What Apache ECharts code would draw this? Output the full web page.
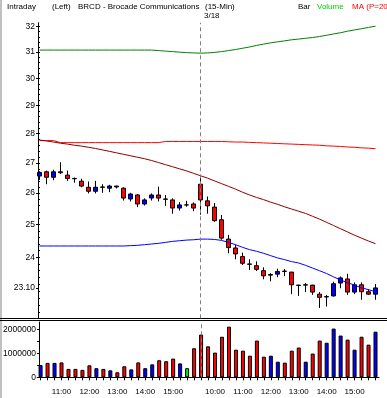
<!DOCTYPE html>
<html><head><meta charset="utf-8">
<script src="https://cdn.jsdelivr.net/npm/echarts@6/dist/echarts.min.js"></script>
<style>html,body{margin:0;padding:0;background:#fff;overflow:hidden}#c{width:387px;height:398px}</style>
</head><body><div id="c"></div>
<script>
// ---- data ----
const day1Times = ['10:15','10:30','10:45','11:00','11:15','11:30','11:45','12:00','12:15','12:30','12:45','13:00','13:15','13:30','13:45','14:00','14:15','14:30','14:45','15:00','15:15','15:30','15:45'];
const day2Times = ['9:30','9:45','10:00','10:15','10:30','10:45','11:00','11:15','11:30','11:45','12:00','12:15','12:30','12:45','13:00','13:15','13:30','13:45','14:00','14:15','14:30','14:45','15:00','15:15','15:30','15:45'];
const opens  = [26.56,26.70,26.52,26.70,26.59,26.48,26.39,26.19,26.06,26.20,26.16,26.23,26.16,25.81,25.94,25.65,25.84,25.94,25.81,25.78,25.52,25.62,25.65,
                26.29,25.75,25.55,25.15,24.55,24.28,24.02,23.80,23.75,23.60,23.47,23.50,23.59,23.56,23.18,23.18,23.18,22.92,22.84,22.87,23.24,23.36,22.98,23.19,22.99,22.92];
const closes = [26.68,26.52,26.70,26.67,26.48,26.47,26.23,26.06,26.19,26.19,26.23,26.20,25.84,25.97,25.65,25.78,25.94,25.84,25.80,25.52,25.62,25.62,25.52,
                25.78,25.59,25.12,24.58,24.29,24.10,23.82,23.79,23.64,23.45,23.49,23.58,23.58,23.19,23.17,23.19,22.98,22.83,22.85,23.22,23.39,22.98,23.19,22.99,22.92,23.10];
const lows   = [26.43,26.29,26.42,26.63,26.40,26.34,26.19,25.99,25.99,26.01,26.03,26.15,25.76,25.73,25.55,25.60,25.76,25.73,25.59,25.34,25.44,25.56,25.42,
                25.31,25.34,25.09,24.53,24.12,23.94,23.77,23.62,23.59,23.35,23.29,23.41,23.44,22.92,22.87,22.98,22.90,22.53,22.57,22.85,23.09,22.90,22.92,22.76,22.90,22.76];
const highs  = [26.72,26.74,26.77,27.02,26.74,26.51,26.47,26.38,26.40,26.29,26.27,26.24,26.19,26.01,25.97,25.83,25.99,26.21,25.94,25.83,25.71,25.75,25.70,
                26.49,25.89,25.68,25.30,24.68,24.38,24.14,23.94,23.88,23.70,23.53,23.66,23.65,23.56,23.19,23.24,23.19,22.98,22.90,23.28,23.43,23.51,23.26,23.26,23.06,23.21];
const volumes = [510000,600000,600000,620000,350000,350000,310000,500000,380000,350000,290000,210000,460000,330000,620000,380000,540000,710000,670000,780000,580000,380000,1210000,
                 1780000,1290000,1030000,1690000,2110000,1150000,1110000,900000,1530000,860000,900000,650000,610000,1110000,1240000,650000,990000,1530000,1440000,2030000,1740000,1570000,1150000,1690000,1360000,1900000];
const lineGreen  = [31.08,31.08,31.08,31.08,31.08,31.08,31.08,31.08,31.08,31.08,31.08,31.08,31.08,31.08,31.08,31.08,31.08,31.06,31.04,31.02,31.00,30.98,30.97,
                    30.96,30.97,30.99,31.02,31.06,31.10,31.15,31.20,31.26,31.31,31.36,31.40,31.44,31.48,31.51,31.54,31.57,31.61,31.66,31.71,31.76,31.82,31.87,31.92,31.97,32.02];
const lineRed    = [27.76,27.76,27.76,27.69,27.69,27.69,27.69,27.69,27.69,27.69,27.69,27.69,27.69,27.69,27.69,27.69,27.69,27.69,27.73,27.73,27.73,27.73,27.73,
                    27.73,27.73,27.73,27.73,27.72,27.71,27.71,27.70,27.69,27.68,27.67,27.66,27.65,27.64,27.63,27.62,27.61,27.60,27.58,27.57,27.56,27.54,27.53,27.51,27.50,27.48];
const lineMaroon = [27.78,27.75,27.71,27.67,27.64,27.60,27.57,27.53,27.49,27.44,27.39,27.34,27.29,27.24,27.19,27.14,27.08,27.01,26.94,26.87,26.80,26.73,26.65,
                    26.57,26.49,26.40,26.31,26.22,26.13,26.03,25.94,25.86,25.79,25.71,25.64,25.56,25.49,25.42,25.35,25.26,25.17,25.07,24.97,24.87,24.77,24.67,24.58,24.49,24.41];
const lineBlue   = [24.34,24.34,24.34,24.34,24.34,24.34,24.34,24.34,24.34,24.34,24.34,24.34,24.34,24.35,24.36,24.38,24.40,24.42,24.45,24.48,24.50,24.52,24.53,
                    24.55,24.55,24.54,24.51,24.45,24.38,24.30,24.23,24.18,24.12,24.05,23.98,23.93,23.87,23.83,23.76,23.68,23.60,23.52,23.42,23.33,23.25,23.18,23.10,23.05,22.99];
const priceTickLabels = [23.1,24,25,26,27,28,29,30,31,32];
const volumeTickLabels = [0,1000000,2000000];
const volumeMinorTicks = [0,500000,1000000,1500000,2000000];
const dayBreakLabel = '3/18';

// ---- build ----
const categories = day1Times.map(t => '3/17 ' + t).concat(day2Times.map(t => '3/18 ' + t));
const candleData = opens.map((o, i) => [o, closes[i], lows[i], highs[i]]);
const volData = volumes.map((v, i) => ({
  value: v,
  itemStyle: { color: closes[i] > opens[i] ? '#0000ff' : (closes[i] < opens[i] ? '#ff0000' : '#00ee00') }
}));
const priceMinorTicks = [];
for (let k = 112; k <= 160; k++) priceMinorTicks.push(Math.round(k * 2) / 10);

const FONT = '"Liberation Sans", Arial, sans-serif';
const PMIN = 22.24, PMAX = 32.16;

const chart = echarts.init(document.getElementById('c'), null, { renderer: 'canvas' });
const dashed = () => ({
  silent: true, symbol: ['none', 'none'],
  lineStyle: { color: '#808080', type: [4, 3], width: 1 },
  label: { show: false },
  data: [{ xAxis: categories[23] }]
});

chart.setOption({
  animation: false,
  backgroundColor: '#ffffff',
  grid: [
    { left: 36, right: 8, top: 22.7, bottom: 79.7 },
    { left: 36, right: 8, top: 322, bottom: 20.7 }
  ],
  xAxis: [
    { type: 'category', gridIndex: 0, data: categories, boundaryGap: true,
      axisLine: { show: false }, axisTick: { show: false }, axisLabel: { show: false }, splitLine: { show: false } },
    { type: 'category', gridIndex: 1, data: categories, boundaryGap: true,
      axisLine: { show: true, lineStyle: { color: '#000', width: 1 } },
      axisTick: { show: true, alignWithLabel: true, interval: 0, length: 3, lineStyle: { color: '#000' } },
      axisLabel: { interval: (i, v) => v.endsWith(':00'), formatter: v => v.split(' ')[1],
        color: '#000', fontFamily: FONT, fontSize: 8, margin: 10 },
      splitLine: { show: false } }
  ],
  yAxis: [
    { type: 'log', gridIndex: 0, position: 'left', min: PMIN, max: PMAX, offset: -2,
      axisLine: { show: true, lineStyle: { color: '#000', width: 1 } },
      axisTick: { show: true, length: 2, customValues: priceTickLabels, lineStyle: { color: '#000' } },
      axisLabel: { customValues: priceTickLabels, color: '#000', fontFamily: FONT, fontSize: 8.5, margin: 3,
        formatter: v => Math.abs(v - 23.1) < 0.01 ? '23.10' : String(Math.round(v)) },
      splitLine: { show: false } },
    { type: 'log', gridIndex: 0, position: 'left', min: PMIN, max: PMAX, offset: -2,
      axisLine: { show: false },
      axisTick: { show: true, inside: true, length: 2, customValues: priceMinorTicks, lineStyle: { color: '#000' } },
      axisLabel: { show: false }, splitLine: { show: false } },
    { type: 'value', gridIndex: 1, position: 'left', min: 0, max: 2304000, offset: -2,
      axisLine: { show: true, lineStyle: { color: '#000', width: 1 } },
      axisTick: { show: true, length: 2, customValues: volumeMinorTicks, lineStyle: { color: '#000' } },
      axisLabel: { customValues: volumeTickLabels, color: '#000', fontFamily: FONT, fontSize: 8.5, margin: 3,
        formatter: v => String(Math.round(v)) },
      splitLine: { show: false } }
  ],
  series: [
    { type: 'candlestick', xAxisIndex: 0, yAxisIndex: 0, data: candleData, barWidth: 4, z: 2,
      itemStyle: { color: '#0000ff', color0: '#ff0000', borderColor: '#000', borderColor0: '#000',
        borderColorDoji: '#000', borderWidth: 1 },
      markLine: dashed() },
    { type: 'line', xAxisIndex: 0, yAxisIndex: 0, data: lineGreen, showSymbol: false, z: 3,
      lineStyle: { color: '#008000', width: 1 } },
    { type: 'line', xAxisIndex: 0, yAxisIndex: 0, data: lineRed, showSymbol: false, z: 3,
      lineStyle: { color: '#ff0000', width: 1 } },
    { type: 'line', xAxisIndex: 0, yAxisIndex: 0, data: lineMaroon, showSymbol: false, z: 3,
      lineStyle: { color: '#8b0000', width: 1 } },
    { type: 'line', xAxisIndex: 0, yAxisIndex: 0, data: lineBlue, showSymbol: false, z: 3,
      lineStyle: { color: '#0000ff', width: 1 } },
    { type: 'bar', xAxisIndex: 1, yAxisIndex: 2, data: volData, barWidth: 4, z: 2,
      itemStyle: { borderColor: '#000', borderWidth: 1 },
      markLine: dashed() }
  ],
  graphic: [
    { type: 'rect', shape: { x: 0, y: 0, width: 2, height: 398 }, style: { fill: '#c0c0c0' }, silent: true },
    { type: 'line', shape: { x1: 0, y1: 318.5, x2: 387, y2: 318.5 }, style: { stroke: '#000', lineWidth: 1 }, silent: true },
    { type: 'line', shape: { x1: 0, y1: 320.5, x2: 387, y2: 320.5 }, style: { stroke: '#000', lineWidth: 1 }, silent: true },
    { type: 'text', x: 7, y: 7, style: { text: 'Intraday', fill: '#000', font: '8px ' + FONT, verticalAlign: 'middle' } },
    { type: 'text', x: 52, y: 7, style: { text: '(Left)', fill: '#000', font: '8px ' + FONT, verticalAlign: 'middle' } },
    { type: 'text', x: 78, y: 7, style: { text: 'BRCD - Brocade Communications', fill: '#000', font: '8px ' + FONT, verticalAlign: 'middle' } },
    { type: 'text', x: 205, y: 7, style: { text: '(15-Min)', fill: '#000', font: '8px ' + FONT, verticalAlign: 'middle' } },
    { type: 'text', x: 204, y: 16, style: { text: dayBreakLabel, fill: '#000', font: '8px ' + FONT, verticalAlign: 'middle' } },
    { type: 'text', x: 298, y: 7, style: { text: 'Bar', fill: '#000', font: '8px ' + FONT, verticalAlign: 'middle' } },
    { type: 'text', x: 317, y: 7, style: { text: 'Volume', fill: '#00cc00', font: '8px ' + FONT, verticalAlign: 'middle' } },
    { type: 'text', x: 352, y: 7, style: { text: 'MA (P=20)', fill: '#ff0000', font: '8px ' + FONT, verticalAlign: 'middle' } }
  ]
});
</script>
</body></html>
